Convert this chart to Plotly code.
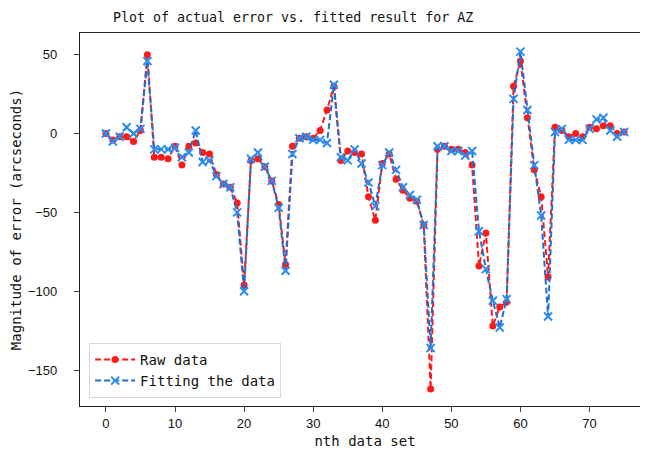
import plotly.graph_objects as go

idx = list(range(76))

raw_data = [0, -4, -2, -2, -5, 2, 50, -15, -15, -16,
            -8, -20, -8, -6, -12, -13, -26, -32, -34, -44,
            -96, -17, -16, -21, -30, -45, -83, -8, -3, -2,
            -3, 2, 15, 30, -17, -11, -12, -13, -40, -55,
            -19, -13, -29, -36, -41, -43, -58, -162, -10, -8,
            -10, -10, -12, -20, -84, -63, -122, -110, -107, 30,
            46, 10, -23, -40, -91, 4, 2, -2, 0, -2,
            4, 3, 5, 5, 0, 1]

fit_data = [0, -5, -2, 4, 0, 3, 46, -10, -10, -10,
            -9, -15, -12, 2, -18, -17, -27, -32, -34, -50,
            -100, -16, -12, -21, -30, -47, -87, -13, -3, -2,
            -4, -4, -6, 31, -15, -17, -10, -19, -31, -46,
            -20, -12, -23, -34, -39, -42, -58, -136, -8, -8,
            -11, -11, -14, -11, -62, -86, -106, -123, -105, 22,
            52, 15, -20, -52, -116, 1, 3, -4, -4, -4,
            3, 9, 10, 2, -2, 1]

x_ticks = [0, 10, 20, 30, 40, 50, 60, 70]
y_ticks = [50, 0, -50, -100, -150]

title_text = "Plot of actual error vs. fitted result for AZ"
x_label = "nth data set"
y_label = "Magnitude of error (arcseconds)"

mono = "DejaVu Sans Mono"

fig = go.Figure()
fig.add_trace(go.Scatter(
    x=idx, y=raw_data, mode="lines+markers", name="Raw data",
    line=dict(color="#ff1a1a", width=2, dash="6px,3px"),
    marker=dict(symbol="circle", size=7, color="#ff1a1a"),
))
fig.add_trace(go.Scatter(
    x=idx, y=fit_data, mode="lines+markers", name="Fitting the data",
    line=dict(color="#1f6fd0", width=2, dash="6px,3px"),
    marker=dict(symbol="x-thin", size=8, color="#2a8cf0",
                line=dict(width=2, color="#2a8cf0")),
))

fig.update_layout(
    width=648, height=455,
    margin=dict(l=72, r=6, t=25, b=57, autoexpand=False),
    paper_bgcolor="white", plot_bgcolor="white",
    title=dict(text=title_text, xref="container", x=0.44, xanchor="center",
               yref="container", y=0.99, yanchor="top",
               font=dict(family=mono, size=13.3, color="#111")),
    font=dict(family=mono, size=12, color="#111"),
    showlegend=True,
    legend=dict(x=0.016, y=0.022, xanchor="left", yanchor="bottom",
                bgcolor="rgba(255,255,255,0.9)", bordercolor="#d8d8d8", borderwidth=1,
                font=dict(family=mono, size=14, color="#111"),
                itemwidth=40, tracegroupgap=0),
)

fig.update_xaxes(
    range=[-3.75, 78.75], tickvals=x_ticks, ticks="outside", ticklen=5,
    showgrid=False, zeroline=False, showline=True, linecolor="#222",
    linewidth=1.2, mirror=True, automargin=False,
    tickfont=dict(family="Liberation Sans", size=13, color="#111"),
    title=dict(text=x_label, font=dict(family=mono, size=14), standoff=6),
)
fig.update_yaxes(
    range=[-172.8, 63.8], tickvals=y_ticks, ticks="outside", ticklen=5,
    showgrid=False, zeroline=False, showline=True, linecolor="#222",
    linewidth=1.2, mirror=True, automargin=False, ticklabelstandoff=14,
    tickfont=dict(family="Liberation Sans", size=13, color="#111"),
    title=dict(text=y_label, font=dict(family=mono, size=14), standoff=6),
)

fig.write_html("out.html")
